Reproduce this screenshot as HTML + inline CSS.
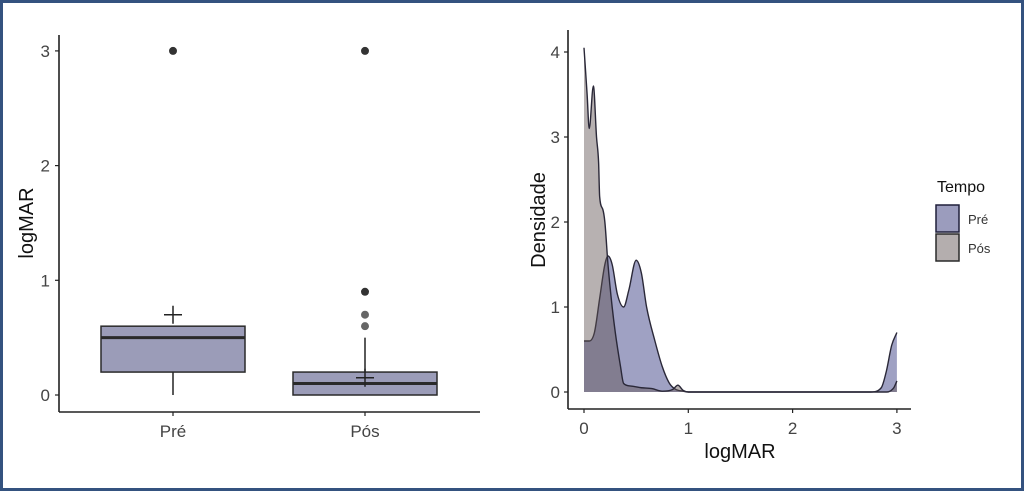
<!DOCTYPE html>
<html><head><meta charset="utf-8"><style>
html,body{margin:0;padding:0;background:#fff}
#wrap{width:1024px;height:491px;box-sizing:border-box;border:3px solid #34527f;position:relative;background:#fff}
svg{position:absolute;left:-3px;top:-3px}
text{font-family:"Liberation Sans",sans-serif}
</style></head><body>
<div id="wrap">
<svg id="s" width="1024" height="491"></svg>
</div>
<script>
// Boxplot data
const groups=["Pré","Pós"];
const q1=[0.2,0];
const med=[0.5,0.1];
const q3=[0.6,0.2];
const whiskLo=[0,0.05];
const whiskHi=[0.6,0.5];
const means=[0.7,0.15];
const outliers=[[3],[0.6,0.7,0.9,3]];
const boxYTicks=[0,1,2,3];
// Density data
const densX_pre=[0,0.05,0.1,0.15,0.2,0.23,0.27,0.32,0.38,0.43,0.5,0.55,0.6,0.68,0.75,0.82,0.88,0.95,1.0,2.75,2.85,2.9,2.95,3.0];
const densY_pre=[0.6,0.6,0.7,1.1,1.5,1.6,1.5,1.15,1.0,1.2,1.55,1.4,1.0,0.6,0.3,0.1,0.03,0.01,0,0,0.05,0.25,0.55,0.7];
const densX_pos=[0,0.03,0.05,0.09,0.12,0.14,0.15,0.18,0.2,0.23,0.27,0.3,0.35,0.38,0.45,0.55,0.65,0.75,0.85,0.9,0.95,1.0,2.9,2.97,3.0];
const densY_pos=[4.05,3.5,3.1,3.6,3.0,2.7,2.3,2.15,2.0,1.5,1.0,0.7,0.3,0.1,0.07,0.05,0.04,0.01,0.03,0.08,0.02,0,0,0.05,0.13];
const densXTicks=[0,1,2,3];
const densYTicks=[0,1,2,3,4];

const svg=document.getElementById('s');const NS="http://www.w3.org/2000/svg";
function el(t,a,txt){const e=document.createElementNS(NS,t);for(const k in a)e.setAttribute(k,a[k]);if(txt!==undefined)e.textContent=txt;svg.appendChild(e);return e;}

// Left axes
const by=v=>395-v*114.7;
const bx=i=>173+i*192;
let e;
e=el('line',{x1:59,y1:35,x2:59,y2:412,stroke:'#222','stroke-width':1.6});

e=el('line',{x1:59,y1:412,x2:480,y2:412,stroke:'#222','stroke-width':1.6});

boxYTicks.forEach(v=>{
 el('line',{x1:55,y1:by(v),x2:59,y2:by(v),stroke:'#222','stroke-width':1.2});
 e=el('text',{x:50,y:by(v)+6,'text-anchor':'end','font-size':17,fill:'#444'},v);
 
});
e=el('text',{x:0,y:0,'font-size':20,fill:'#111','text-anchor':'middle',transform:'translate(33,223) rotate(-90)'},'logMAR');

groups.forEach((g,i)=>{
 const cx=bx(i),hw=72;
 el('line',{x1:cx,y1:412,x2:cx,y2:416,stroke:'#222','stroke-width':1.2});
 e=el('text',{x:cx,y:437,'text-anchor':'middle','font-size':17,fill:'#444'},g);
 
 e=el('line',{x1:cx,y1:by(whiskLo[i]),x2:cx,y2:by(whiskHi[i]),stroke:'#222','stroke-width':1.5});
 
 e=el('rect',{x:cx-hw,y:by(q3[i]),width:2*hw,height:by(q1[i])-by(q3[i]),fill:'#9b9cb8',stroke:'#2a2a2a','stroke-width':1.5});
 
 e=el('line',{x1:cx-hw,y1:by(med[i]),x2:cx+hw,y2:by(med[i]),stroke:'#2a2a2a','stroke-width':3});
 
 const m=by(means[i]);
 e=el('path',{d:`M${cx-9},${m}H${cx+9}M${cx},${m-9}V${m+9}`,stroke:'#222','stroke-width':1.5,fill:'none'});
 
 outliers[i].forEach(v=>{
  e=el('circle',{cx:cx,cy:by(v),r:4,fill:v>=0.9?'#333':'#666'});
  
 });
});

// Right density
const dx=v=>584+v*104.3;
const dy=v=>392-v*85;
e=el('line',{x1:568,y1:30,x2:568,y2:409,stroke:'#222','stroke-width':1.6});

e=el('line',{x1:568,y1:409,x2:911,y2:409,stroke:'#222','stroke-width':1.6});

densYTicks.forEach(v=>{
 el('line',{x1:564,y1:dy(v),x2:568,y2:dy(v),stroke:'#222','stroke-width':1.2});
 e=el('text',{x:560,y:dy(v)+6,'text-anchor':'end','font-size':17,fill:'#444'},v);
 
});
densXTicks.forEach(v=>{
 el('line',{x1:dx(v),y1:409,x2:dx(v),y2:413,stroke:'#222','stroke-width':1.2});
 e=el('text',{x:dx(v),y:434,'text-anchor':'middle','font-size':17,fill:'#444'},v);
 
});
e=el('text',{x:740,y:458,'text-anchor':'middle','font-size':20,fill:'#111'},'logMAR');

e=el('text',{x:0,y:0,'font-size':20,fill:'#111','text-anchor':'middle',transform:'translate(545,220) rotate(-90)'},'Densidade');

// monotone cubic path through points
function smooth(px,py){
 const n=px.length,d=[],m=[];
 for(let i=0;i<n-1;i++)d.push((py[i+1]-py[i])/(px[i+1]-px[i]));
 m[0]=d[0];m[n-1]=d[n-2];
 for(let i=1;i<n-1;i++)m[i]=(d[i-1]*d[i]<=0)?0:(d[i-1]+d[i])/2;
 for(let i=0;i<n-1;i++){if(d[i]===0){m[i]=0;m[i+1]=0;continue;}const a=m[i]/d[i],b=m[i+1]/d[i],s=a*a+b*b;if(s>9){const t=3/Math.sqrt(s);m[i]=t*a*d[i];m[i+1]=t*b*d[i];}}
 let s='';
 for(let i=0;i<n-1;i++){const h=(px[i+1]-px[i])/3;s+=`C${px[i]+h},${py[i]+m[i]*h} ${px[i+1]-h},${py[i+1]-m[i+1]*h} ${px[i+1]},${py[i+1]}`;}
 return s;
}
function area(xs,ys,fill,name){
 const px=xs.map(dx),py=ys.map(dy);
 const c=smooth(px,py);
 const d=`M${px[0]},${dy(0)}L${px[0]},${py[0]}${c}L${px[px.length-1]},${dy(0)}Z`;
 const l=`M${px[0]},${py[0]}${c}`;
 e=el('path',{d:d,fill:fill,stroke:'none'});
 
 e=el('path',{d:l,fill:'none',stroke:'#2a2838','stroke-width':1.4,'stroke-linejoin':'round'});
 
}
area(densX_pre,densY_pre,'rgba(70,75,140,0.52)','density-pre');
area(densX_pos,densY_pos,'rgba(95,82,82,0.45)','density-pos');

// Legend
e=el('text',{x:937,y:192,'font-size':16,fill:'#111'},'Tempo');

e=el('rect',{x:936,y:205,width:23,height:27,fill:'#9b9cbd',stroke:'#1f1f3a','stroke-width':1.5});

e=el('rect',{x:936,y:234,width:23,height:27,fill:'#b4aeae',stroke:'#2a2a2a','stroke-width':1.5});

e=el('text',{x:968,y:224,'font-size':13,fill:'#333'},'Pré');

e=el('text',{x:968,y:253,'font-size':13,fill:'#333'},'Pós');

</script>
</body></html>
